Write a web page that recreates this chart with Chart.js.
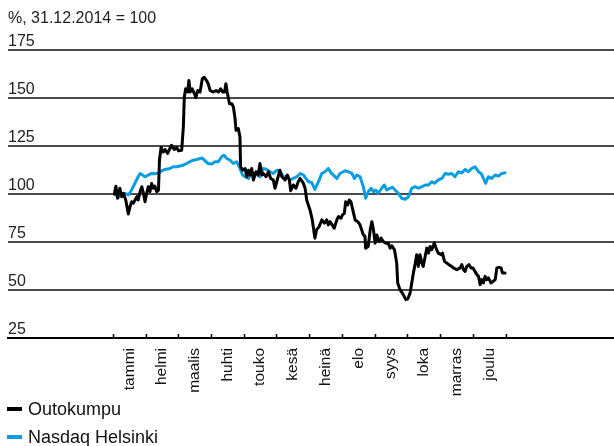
<!DOCTYPE html>
<html><head><meta charset="utf-8">
<script src="https://cdn.jsdelivr.net/npm/chart.js@4.4.0/dist/chart.umd.min.js"></script>
<style>
html,body{margin:0;padding:0;background:#fff;}
#wrap{position:relative;width:614px;height:446px;overflow:hidden;background:#fff;}
canvas{position:absolute;left:0;top:0;}
#legend{position:absolute;left:7px;top:395px;font-family:"Liberation Sans",Arial,sans-serif;font-size:18px;color:#111;}
.item{display:flex;align-items:center;height:28px;white-space:nowrap;}
.mk{display:inline-block;width:15px;height:4px;margin-right:6px;}
</style></head>
<body><div id="wrap"><canvas id="c" width="614" height="446"></canvas><div id="legend"></div></div>
<script>
const chartTitle = '%, 31.12.2014 = 100';
const months = ['tammi','helmi','maalis','huhti','touko','kesä','heinä','elo','syys','loka','marras','joulu'];
const yTickValues = [25, 50, 75, 100, 125, 150, 175];
const seriesNames = ['Outokumpu', 'Nasdaq Helsinki'];
const seriesColors = ['#000000', '#0a9ddf'];

// Outokumpu: x = position in months from start of year, value = index
const outoMonths = [0.03,0.08,0.13,0.20,0.26,0.31,0.38,0.46,0.51,0.56,0.61,0.72,0.76,0.82,0.87,0.92,0.97,1.02,1.07,1.12,1.17,1.22,1.27,1.33,1.38,1.41,1.46,1.53,1.58,1.66,1.73,1.78,1.86,1.94,1.99,2.09,2.14,2.17,2.21,2.27,2.31,2.35,2.41,2.48,2.52,2.58,2.65,2.72,2.78,2.85,2.90,2.96,3.06,3.14,3.21,3.28,3.34,3.40,3.44,3.48,3.55,3.62,3.67,3.72,3.75,3.82,3.87,3.89,3.95,4.03,4.08,4.13,4.18,4.23,4.28,4.36,4.43,4.48,4.54,4.58,4.67,4.74,4.81,4.89,4.94,5.01,5.09,5.15,5.25,5.32,5.38,5.42,5.50,5.58,5.65,5.71,5.81,5.86,5.91,6.01,6.08,6.16,6.21,6.29,6.37,6.45,6.52,6.57,6.62,6.69,6.75,6.83,6.88,6.96,7.00,7.06,7.10,7.16,7.21,7.26,7.33,7.39,7.47,7.54,7.59,7.64,7.69,7.71,7.79,7.85,7.90,7.95,8.00,8.05,8.12,8.18,8.25,8.33,8.40,8.46,8.51,8.59,8.61,8.66,8.69,8.76,8.86,8.94,9.00,9.07,9.12,9.17,9.22,9.27,9.32,9.37,9.43,9.47,9.53,9.58,9.63,9.68,9.73,9.81,9.88,9.93,10.02,10.06,10.12,10.19,10.26,10.34,10.39,10.50,10.60,10.65,10.70,10.75,10.80,10.87,10.93,10.99,11.05,11.11,11.16,11.21,11.26,11.31,11.36,11.41,11.46,11.54,11.61,11.67,11.72,11.79,11.85,11.89,11.97];
const outoValues = [100,104,97.8,103,98.6,100.4,96.9,89.6,93.4,96,95.2,98.6,96.9,101.2,103.8,100.4,96,100.4,103.8,101.2,105.5,103,104.1,101.2,102,117.6,124.2,121.9,123.2,121.1,123.7,125.4,123.2,124.2,122.5,122.8,134.9,150.5,154.8,153.1,159.1,153.1,154.8,152.2,150.2,153.9,153.1,160,160.8,159.1,157.4,153.9,153.1,153.9,153.1,154.8,153.1,153.1,157.4,153.1,147,147,145.3,139.3,133.2,134.1,129.7,114.2,112.4,113.3,109,112.4,109.9,113.3,107.3,111.6,109.9,115.9,109.9,110.7,109,111.6,108.1,107.3,103,107.3,112.4,109,107.3,109.9,107.3,101.7,104.7,103,106.4,108.1,105.5,103,96.9,91.7,86.5,77,81.3,83,86.5,84.8,86.5,83.9,85.6,83.9,82.2,86.5,88.2,87.4,89.1,89.9,96,94.3,96.9,96,90.8,86.5,85.6,83.9,81.3,78.7,77.9,71.8,72.7,81.3,85.6,81.3,74.4,78.7,75.3,77,75.3,74.4,74.4,71.8,73,71,69.2,64,53.7,50.2,47.6,45,45.4,48.5,53.7,58.9,63.2,68.4,62.3,68.4,64,62.3,67.5,71.8,69.2,72.7,71,74.4,71,69.2,68.4,69.2,64.9,64,63.2,62.3,61.5,60.6,61.5,63.2,60.6,59.7,62.3,63.2,61.5,61.5,59.7,58,57.1,52.8,55.4,53.7,57.1,55.4,56.3,53.7,54.5,55.4,61.5,61.8,61.5,58.9,58.9];

// Nasdaq Helsinki
const omxMonths = [0.03,0.17,0.36,0.46,0.56,0.66,0.76,0.82,0.89,0.97,1.07,1.17,1.27,1.38,1.48,1.58,1.73,1.83,1.94,2.04,2.14,2.24,2.34,2.45,2.55,2.65,2.72,2.80,2.90,3.01,3.11,3.21,3.31,3.38,3.47,3.57,3.67,3.77,3.85,3.89,3.95,4.03,4.13,4.18,4.28,4.38,4.48,4.58,4.69,4.79,4.89,4.99,5.09,5.20,5.30,5.40,5.50,5.61,5.71,5.81,5.86,5.96,6.06,6.16,6.27,6.37,6.47,6.57,6.67,6.83,6.93,7.08,7.18,7.29,7.37,7.44,7.54,7.64,7.71,7.79,7.88,7.95,8.02,8.10,8.20,8.28,8.36,8.46,8.53,8.61,8.71,8.81,8.92,9.02,9.12,9.22,9.32,9.43,9.53,9.63,9.73,9.81,9.93,10.04,10.14,10.24,10.34,10.44,10.54,10.65,10.75,10.85,10.95,11.05,11.16,11.24,11.31,11.38,11.46,11.56,11.67,11.77,11.87,11.97];
const omxValues = [100,98.5,100.4,99.5,102.1,105.6,109,110.7,109.9,109,109.9,110.7,110.5,111,112.1,112.8,113.3,114.2,114.2,114.6,115,115.9,116.8,117.6,118,118.5,118.8,117.3,115.9,115.6,116.8,116.8,119.4,120.2,118.5,117.6,115.9,116.8,114.2,112.4,109.9,109,108.1,109.9,110.7,110.2,109,113.3,112.8,111.6,110.7,112.4,111.6,109,109,107.3,108.1,109,110.7,109.9,108.7,106.4,106,102.4,106.4,110.7,111.6,113.3,110.7,108.1,110.7,112.1,111.6,110.7,108.1,109.9,109,103.8,97.8,101.2,103,101.2,102,100.4,103,104.7,102.1,103,103.5,102.1,100.4,97.8,97.3,98.6,103,103.8,103,103.8,104.7,104.7,106.4,105.6,107.3,108.1,110.7,110.3,110.7,109,111.6,111,112.8,111.6,113.3,114.2,111.6,110.7,108.1,105.6,109,108.1,109.9,109.3,110.7,111];

const xMin = -3.218, xMax = 15.30;
const toPoints = (xs, ys) => xs.map((x, i) => ({x: x, y: ys[i]}));

const chart = new Chart(document.getElementById('c'), {
  type: 'line',
  data: {
    datasets: [
      {label: seriesNames[0], data: toPoints(outoMonths, outoValues), borderColor: seriesColors[0], backgroundColor: seriesColors[0], borderWidth: 3, pointRadius: 0, tension: 0, borderJoinStyle: 'round', borderCapStyle: 'round'},
      {label: seriesNames[1], data: toPoints(omxMonths, omxValues), borderColor: seriesColors[1], backgroundColor: seriesColors[1], borderWidth: 3, pointRadius: 0, tension: 0, borderJoinStyle: 'round', borderCapStyle: 'round'}
    ]
  },
  options: {
    responsive: false, animation: false, devicePixelRatio: 1, events: [],
    layout: {padding: {left: 8, right: 0, top: 0, bottom: 0}},
    plugins: {
      legend: {display: false},
      tooltip: {enabled: false},
      title: {display: true, text: chartTitle, align: 'start', color: '#222',
        font: {family: '"Liberation Sans", Arial, sans-serif', size: 16, weight: 'normal', lineHeight: 1.2},
        padding: {top: 9, bottom: 21.8}}
    },
    scales: {
      x: {
        type: 'linear', min: xMin, max: xMax,
        afterBuildTicks: (s) => { s.ticks = months.concat(['']).map((m, i) => ({value: i})); },
        afterFit: (s) => { s.height = 108; },
        grid: {drawOnChartArea: false, drawTicks: true, tickLength: -4, tickWidth: 1.5, color: '#000'},
        border: {display: true, color: '#000', width: 2},
        ticks: {autoSkip: false, minRotation: 90, maxRotation: 90, padding: 14, labelOffset: 16,
          color: '#111', font: {family: '"Liberation Sans", Arial, sans-serif', size: 15.5},
          callback: (v) => months[v] !== undefined ? months[v] : ''}
      },
      y: {
        min: 25, max: 175,
        afterBuildTicks: (s) => { s.ticks = yTickValues.map(v => ({value: v})); },
        afterFit: (s) => { s.width = 0; },
        grid: {drawTicks: false, color: '#4a4a4a', lineWidth: 2},
        border: {display: false},
        ticks: {mirror: true, padding: 0, labelOffset: -8, color: '#222',
          font: {family: '"Liberation Sans", Arial, sans-serif', size: 16}}
      }
    }
  }
});

const lg = document.getElementById('legend');
chart.data.datasets.forEach(ds => {
  const row = document.createElement('div'); row.className = 'item';
  const mk = document.createElement('span'); mk.className = 'mk'; mk.style.background = ds.borderColor;
  const tx = document.createElement('span'); tx.textContent = ds.label;
  row.appendChild(mk); row.appendChild(tx); lg.appendChild(row);
});
</script>
</body></html>
